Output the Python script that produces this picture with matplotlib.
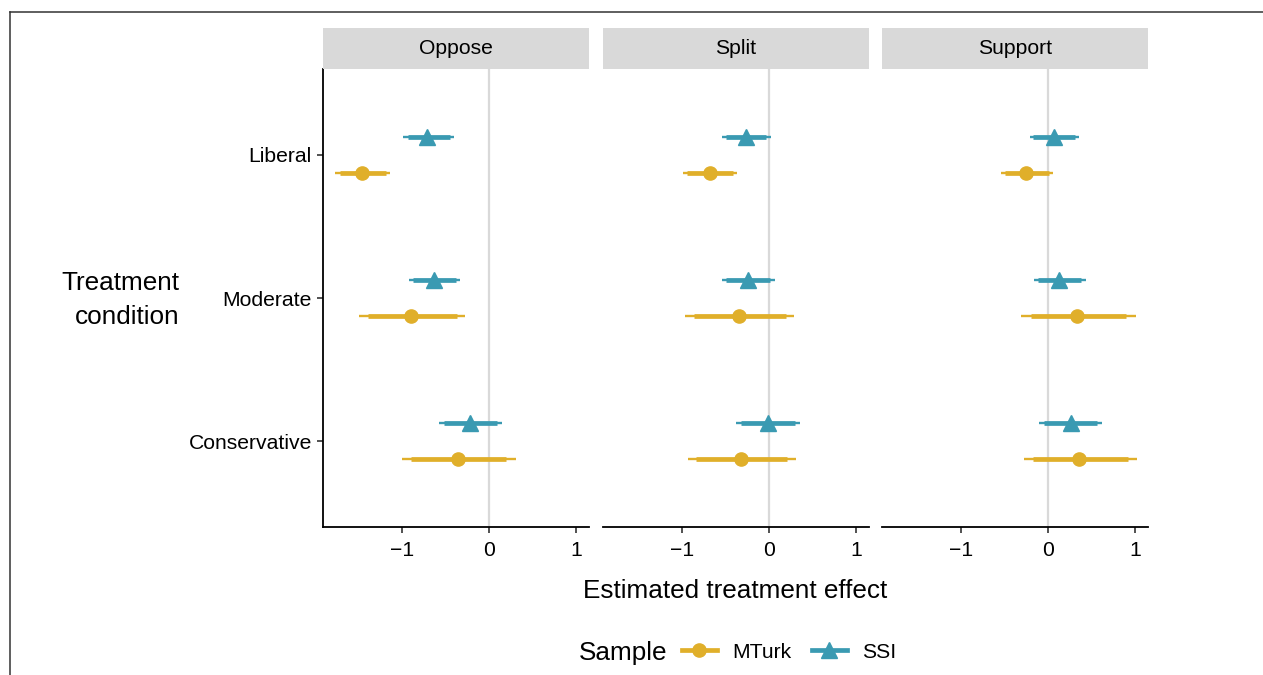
import matplotlib
matplotlib.use("Agg")
import matplotlib.pyplot as plt
from matplotlib.lines import Line2D
import numpy as np

plt.rcParams['font.family'] = ['Liberation Sans', 'DejaVu Sans']

panels = ["Oppose", "Split", "Support"]
conditions = ["Liberal", "Moderate", "Conservative"]
cond_pos = [3, 2, 1]

# MTurk: point estimates, inner (thick) and outer (thin) intervals, per panel x condition
mturk_est = [[-1.455, -0.89, -0.36],
             [-0.68, -0.343, -0.316],
             [-0.246, 0.337, 0.36]]
mturk_in_lo = [[-1.70, -1.39, -0.89],
               [-0.94, -0.86, -0.834],
               [-0.49, -0.20, -0.177]]
mturk_in_hi = [[-1.18, -0.37, 0.20],
               [-0.415, 0.194, 0.206],
               [0.013, 0.897, 0.92]]
mturk_out_lo = [[-1.76, -1.49, -1.0],
                [-0.98, -0.96, -0.93],
                [-0.54, -0.31, -0.28]]
mturk_out_hi = [[-1.13, -0.27, 0.305],
                [-0.366, 0.29, 0.305],
                [0.06, 1.01, 1.015]]

# SSI
ssi_est = [[-0.705, -0.63, -0.217],
           [-0.263, -0.244, -0.008],
           [0.07, 0.131, 0.26]]
ssi_in_lo = [[-0.93, -0.87, -0.51],
             [-0.49, -0.49, -0.32],
             [-0.166, -0.117, -0.05]]
ssi_in_hi = [[-0.445, -0.38, 0.095],
             [-0.03, 0.015, 0.30],
             [0.31, 0.383, 0.566]]
ssi_out_lo = [[-0.98, -0.92, -0.57],
              [-0.537, -0.537, -0.377],
              [-0.21, -0.16, -0.10]]
ssi_out_hi = [[-0.40, -0.33, 0.15],
              [0.023, 0.069, 0.358],
              [0.36, 0.43, 0.62]]

xticks = [-1, 0, 1]
xtick_labels = ["\u22121", "0", "1"]

C_MT = "#E0AF2A"
C_SSI = "#3A9AB2"

W, H = 1263, 675
fig = plt.figure(figsize=(W / 100, H / 100), dpi=100)

left_px = [323, 603, 882]
pw = 266
top_px, bot_px = 69, 527
dodge = 0.125
FS_TICK = 15.2
FS_TITLE = 18.8

series = [
    (mturk_est, mturk_in_lo, mturk_in_hi, mturk_out_lo, mturk_out_hi, C_MT, 'o', 9.5, -dodge),
    (ssi_est, ssi_in_lo, ssi_in_hi, ssi_out_lo, ssi_out_hi, C_SSI, '^', 11.5, dodge),
]

for p, name in enumerate(panels):
    ax = fig.add_axes([left_px[p] / W, 1 - bot_px / H, pw / W, (bot_px - top_px) / H])
    ax.axvline(0, color="#d9d9d9", lw=1.6, zorder=0)
    for est, ilo, ihi, olo, ohi, col, mk, ms, off in series:
        y = np.array(cond_pos) + off
        ax.hlines(y, olo[p], ohi[p], color=col, lw=1.7, zorder=2)
        ax.hlines(y, ilo[p], ihi[p], color=col, lw=3.4, zorder=3)
        ax.plot(est[p], y, linestyle='none', marker=mk, ms=ms, color=col, mec=col, zorder=4)
    ax.set_xlim(-1.9, 1.145)
    ax.set_ylim(0.4, 3.6)
    ax.set_xticks(xticks)
    ax.set_xticklabels(xtick_labels, fontsize=FS_TICK)
    for s in ["top", "right"]:
        ax.spines[s].set_visible(False)
    ax.spines["bottom"].set_linewidth(1.3)
    ax.tick_params(axis='x', length=4, width=1.1, pad=6, colors='#222222', labelcolor='black')
    if p == 0:
        ax.set_yticks(cond_pos)
        ax.set_yticklabels(conditions, fontsize=FS_TICK)
        ax.spines["left"].set_linewidth(1.3)
        ax.tick_params(axis='y', length=4, width=1.1, pad=4, colors='#222222', labelcolor='black')
    else:
        ax.spines["left"].set_visible(False)
        ax.set_yticks([])
    # strip
    sax = fig.add_axes([left_px[p] / W, 1 - top_px / H, pw / W, 41 / H])
    sax.set_facecolor("#d9d9d9")
    sax.set_xticks([]); sax.set_yticks([])
    for s in sax.spines.values():
        s.set_visible(False)
    sax.text(0.5, 0.5, name, ha='center', va='center', fontsize=FS_TICK, transform=sax.transAxes)

# axis titles
fig.text(735 / W, 1 - 591 / H, "Estimated treatment effect", ha='center', va='center', fontsize=FS_TITLE)
fig.text(179 / W, 1 - 300 / H, "Treatment\ncondition", ha='right', va='center', fontsize=FS_TITLE,
         multialignment='right', linespacing=1.55)

# legend
fig.text(579 / W, 1 - 653 / H, "Sample", ha='left', va='center', fontsize=FS_TITLE)
handles = [
    Line2D([], [], color=C_MT, lw=3.4, marker='o', ms=9.5),
    Line2D([], [], color=C_SSI, lw=3.4, marker='^', ms=11.5),
]
fig.legend(handles, ["MTurk", "SSI"], loc='center left', bbox_to_anchor=(682 / W, 1 - 652 / H),
           ncol=2, frameon=False, fontsize=FS_TICK, handlelength=1.65, handletextpad=0.75,
           columnspacing=0.95, borderpad=0, borderaxespad=0)

# outer frame lines
fig.add_artist(Line2D([10 / W, 1], [1 - 12 / H, 1 - 12 / H], transform=fig.transFigure,
                      color="#333333", lw=1.1))
fig.add_artist(Line2D([10 / W, 10 / W], [0, 1 - 12 / H], transform=fig.transFigure,
                      color="#333333", lw=1.1))

fig.savefig("out.png", dpi=100)
